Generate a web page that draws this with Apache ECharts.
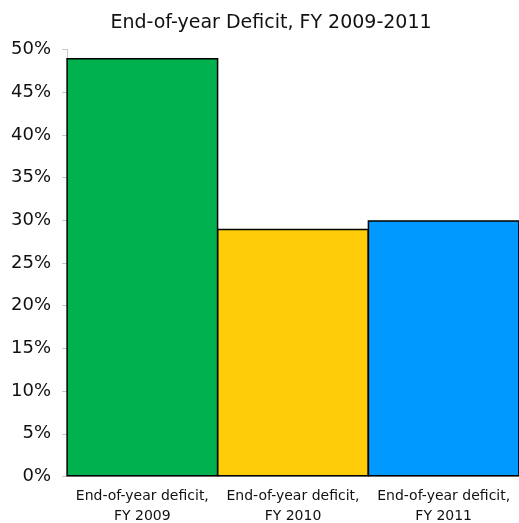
<!DOCTYPE html>
<html>
<head>
<meta charset="utf-8">
<script src="https://cdn.jsdelivr.net/npm/echarts@6/dist/echarts.min.js"></script>
<style>
    html, body { margin: 0; padding: 0; background: #fff; }
    #chart { width: 519px; height: 523px; }
</style>
</head>
<body>
<div id="chart"></div>
<script>
const categories = ['End-of-year deficit,\nFY 2009', 'End-of-year deficit,\nFY 2010', 'End-of-year deficit,\nFY 2011']
const deficitPct = [49, 29, 30]
const barColors = ['#00b14f', '#ffcc0a', '#0099ff']

const fontFam = '"DejaVu Sans", Verdana, sans-serif'

const option = {
    animation: false,
    title: {
        text: 'End-of-year Deficit, FY 2009-2011',
        left: 266,
        textAlign: 'center',
        top: 9,
        textStyle: {
            fontFamily: fontFam,
            fontSize: 19,
            fontWeight: 'normal',
            color: '#111'
        }
    },
    grid: {
        left: 67,
        right: 0,
        top: 49.5,
        bottom: 46.5,
        outerBoundsMode: 'none',
        containLabel: false
    },
    xAxis: {
        type: 'category',
        data: categories,
        axisLine: { lineStyle: { color: '#c8c8c8' } },
        axisTick: { length: 5, lineStyle: { color: '#c8c8c8' } },
        axisLabel: {
            fontFamily: fontFam,
            fontSize: 14,
            color: '#111',
            lineHeight: 20,
            margin: 10,
            interval: 0
        }
    },
    yAxis: {
        type: 'value',
        min: 0,
        max: 50,
        interval: 5,
        splitLine: { show: false },
        axisLine: { show: true, lineStyle: { color: '#c8c8c8' } },
        axisTick: { show: true, length: 5, lineStyle: { color: '#c8c8c8' } },
        axisLabel: {
            fontFamily: fontFam,
            fontSize: 18,
            color: '#111',
            margin: 16,
            formatter: '{value}%'
        }
    },
    series: [
        {
            type: 'bar',
            barWidth: 152,
            barCategoryGap: 0,
            data: deficitPct.map((v, i) => ({
                value: v,
                itemStyle: { color: barColors[i] }
            })),
            itemStyle: {
                borderColor: '#000',
                borderWidth: 1.5
            }
        }
    ]
}

const myChart = echarts.init(document.getElementById('chart'))
myChart.setOption(option)
</script>
</body>
</html>
